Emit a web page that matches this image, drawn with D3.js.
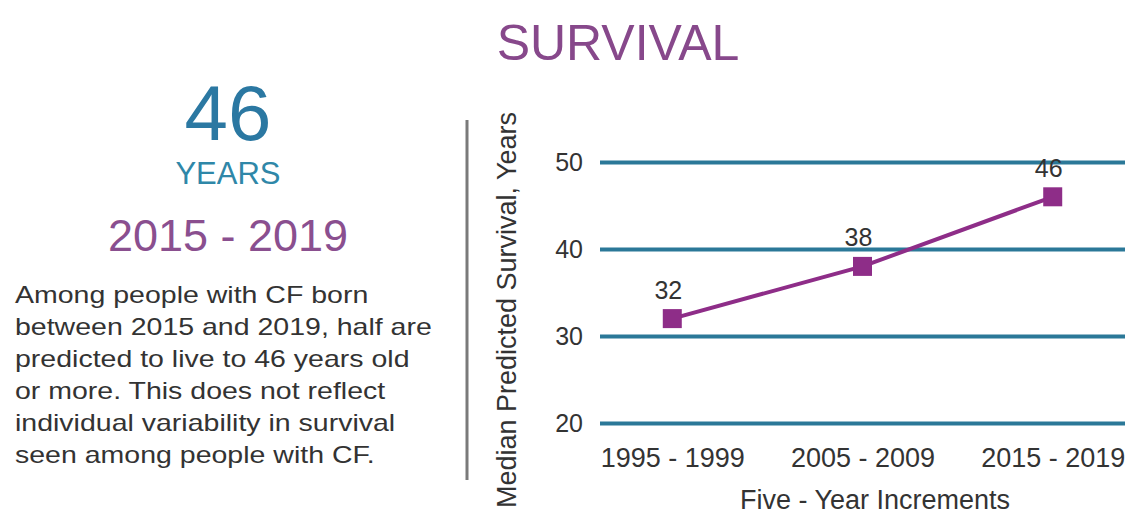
<!DOCTYPE html>
<html>
<head>
<meta charset="utf-8">
<script src="https://cdn.jsdelivr.net/npm/d3@7"></script>
<style>
  html, body { margin: 0; padding: 0; background: #fff; }
  svg { display: block; font-family: "Liberation Sans", Arial, sans-serif; }
</style>
</head>
<body>
<svg id="chart" width="1133" height="521"></svg>
<script>
// Median predicted survival by birth cohort
const categories = ["1995 - 1999", "2005 - 2009", "2015 - 2019"];
const survival = [32, 38, 46];
const yTicks = [20, 30, 40, 50];

const headline = "46";
const headlineUnit = "YEARS";
const headlinePeriod = "2015 - 2019";
const paragraph = [
  "Among people with CF born",
  "between 2015 and 2019, half are",
  "predicted to live to 46 years old",
  "or more. This does not reflect",
  "individual variability in survival",
  "seen among people with CF."
];

const svg = d3.select("#chart");

const purple = "#87488b";
const blue = "#2b78a2";
const grid = "#2b7898";
const mark = "#8e2d88";
const ink = "#333";

// Title
svg.append("text")
  .attr("x", 618).attr("y", 60)
  .attr("text-anchor", "middle")
  .attr("font-size", 50)
  .attr("fill", purple)
  .text("SURVIVAL");

// Left summary panel
svg.append("text")
  .attr("x", 228).attr("y", 140)
  .attr("text-anchor", "middle")
  .attr("font-size", 78)
  .attr("fill", blue)
  .text(headline);

svg.append("text")
  .attr("x", 228).attr("y", 184)
  .attr("text-anchor", "middle")
  .attr("font-size", 31)
  .attr("fill", "#2f87a8")
  .text(headlineUnit);

svg.append("text")
  .attr("x", 228).attr("y", 251)
  .attr("text-anchor", "middle")
  .attr("font-size", 45)
  .attr("fill", "#8a4f8f")
  .text(headlinePeriod);

const para = svg.append("g").attr("transform", "translate(15,303) scale(1.24,1)");
para.selectAll("text")
  .data(paragraph)
  .join("text")
  .attr("x", 0)
  .attr("y", (d, i) => i * 32)
  .attr("font-size", 23)
  .attr("fill", ink)
  .text(d => d);

// Divider
svg.append("line")
  .attr("x1", 467).attr("x2", 467)
  .attr("y1", 120).attr("y2", 480)
  .attr("stroke", "#7a7a7a")
  .attr("stroke-width", 3);

// Chart
const plot = { left: 600, right: 1125, top: 162, bottom: 423 };

const x = d3.scalePoint()
  .domain(categories)
  .range([plot.left, plot.right])
  .padding(0.38);

const y = d3.scaleLinear()
  .domain([20, 50])
  .range([plot.bottom, plot.top]);

// Horizontal gridlines with value labels
const yAxis = svg.append("g")
  .attr("transform", `translate(${plot.left},0)`)
  .call(d3.axisLeft(y)
    .tickValues(yTicks)
    .tickSize(-(plot.right - plot.left))
    .tickPadding(17)
    .tickFormat(d3.format("d")));
yAxis.select(".domain").remove();
yAxis.selectAll(".tick line")
  .attr("stroke", grid)
  .attr("stroke-width", 4);
yAxis.selectAll(".tick text")
  .attr("font-size", 25)
  .attr("font-family", "Liberation Sans, Arial, sans-serif")
  .attr("fill", ink);

// Category labels
const xAxis = svg.append("g")
  .attr("transform", `translate(0,${plot.bottom})`)
  .call(d3.axisBottom(x).tickSize(0).tickPadding(25));
xAxis.select(".domain").remove();
xAxis.selectAll(".tick text")
  .attr("font-size", 27)
  .attr("font-family", "Liberation Sans, Arial, sans-serif")
  .attr("fill", ink);

// Axis titles
svg.append("text")
  .attr("transform", `translate(516,310) rotate(-90)`)
  .attr("text-anchor", "middle")
  .attr("font-size", 27)
  .attr("fill", ink)
  .text("Median Predicted Survival, Years");

svg.append("text")
  .attr("x", 875).attr("y", 509)
  .attr("text-anchor", "middle")
  .attr("font-size", 27)
  .attr("fill", ink)
  .text("Five - Year Increments");

// Series line and markers
const pts = categories.map((c, i) => ({ c, v: survival[i] }));

svg.append("path")
  .datum(pts)
  .attr("fill", "none")
  .attr("stroke", mark)
  .attr("stroke-width", 4)
  .attr("d", d3.line().x(d => x(d.c)).y(d => y(d.v)));

const size = 19;
svg.selectAll("rect.pt")
  .data(pts)
  .join("rect")
  .attr("class", "pt")
  .attr("x", d => x(d.c) - size / 2)
  .attr("y", d => y(d.v) - size / 2)
  .attr("width", size)
  .attr("height", size)
  .attr("fill", mark);

svg.selectAll("text.val")
  .data(pts)
  .join("text")
  .attr("class", "val")
  .attr("x", d => x(d.c) - 4)
  .attr("y", d => y(d.v) - 20)
  .attr("text-anchor", "middle")
  .attr("font-size", 25)
  .attr("fill", ink)
  .text(d => d.v);
</script>
</body>
</html>
